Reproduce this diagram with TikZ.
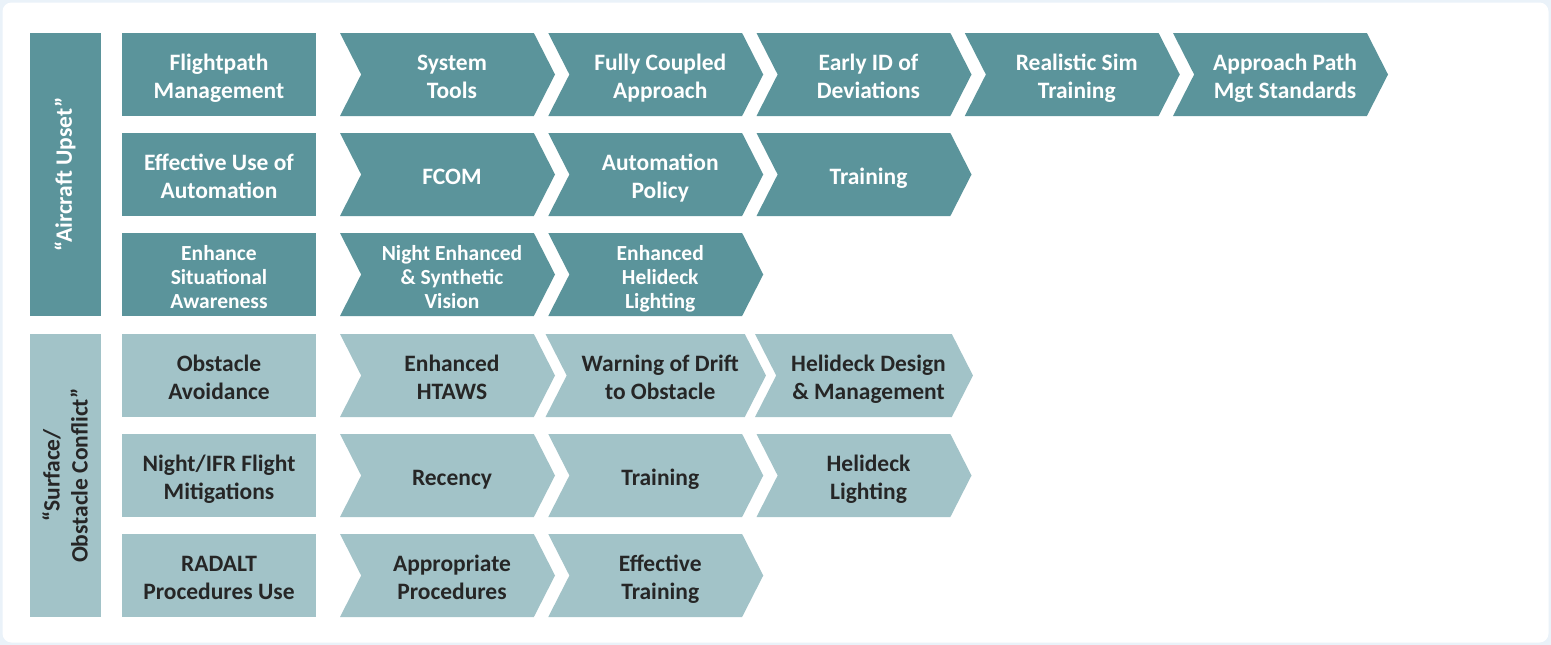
\documentclass[tikz,border=0pt]{standalone}
\usepackage{fontspec}
\setmainfont{Carlito}
\usetikzlibrary{shapes.symbols}
\definecolor{tealdark}{HTML}{5B949B}
\definecolor{teallight}{HTML}{A2C3C8}
\definecolor{ink}{HTML}{262626}
\definecolor{framebg}{HTML}{EAF2F9}
\tikzstyle{group} = [rectangle, minimum width=283pt, minimum height=71pt, inner sep=0pt, align=center, rotate=90, font=\fontsize{23.5}{28}\selectfont\bfseries]
\tikzstyle{cause} = [rectangle, minimum width=194pt, minimum height=83pt, inner sep=0pt, font=\fontsize{23.5}{28}\selectfont\bfseries, execute at begin node={\rule{0pt}{1.25em}}]
\tikzstyle{chev} = [signal, signal to=east, signal from=west, signal pointer angle=126, minimum width=215pt, minimum height=83pt, inner sep=0pt, font=\fontsize{23.5}{28}\selectfont\bfseries, execute at begin node={\hspace*{9pt}\rule{0pt}{1.25em}}]
\tikzstyle{three} = [font=\fontsize{21.5}{24}\selectfont\bfseries]
\tikzstyle{dark} = [fill=tealdark, text=white]
\tikzstyle{light} = [fill=teallight, text=ink]

\begin{document}
\begin{tikzpicture}[x=1pt, y=-1pt, node distance=208.25pt]
	\useasboundingbox (0,0) rectangle (1551,645);
	\fill [framebg] (0,0) rectangle (1551,645);
	\fill [white, rounded corners=9pt] (2.5,2.5) rectangle (1548.5,642.5);

	% "Aircraft Upset"
	\node (upset) [group, dark] at (65,174.5) {“Aircraft Upset”};
	\node (flight) [cause, dark] at (219,74.5) {\begin{tabular}[t]{c}Flightpath\\Management\end{tabular}};
	\node (systools) [chev, dark] at (447.5,74.5) {\begin{tabular}[t]{c}System\\Tools\end{tabular}};
	\node (coupled) [chev, dark, right of=systools] {\begin{tabular}[t]{c}Fully Coupled\\Approach\end{tabular}};
	\node (earlyid) [chev, dark, right of=coupled] {\begin{tabular}[t]{c}Early ID of\\Deviations\end{tabular}};
	\node (simtrain) [chev, dark, right of=earlyid] {\begin{tabular}[t]{c}Realistic Sim\\Training\end{tabular}};
	\node (pathstd) [chev, dark, right of=simtrain] {\begin{tabular}[t]{c}Approach Path\\Mgt Standards\end{tabular}};

	\node (autom) [cause, dark] at (219,174.5) {\begin{tabular}[t]{c}Effective Use of\\Automation\end{tabular}};
	\node (fcom) [chev, dark] at (447.5,174.5) {\begin{tabular}[t]{c}FCOM\end{tabular}};
	\node (autopol) [chev, dark, right of=fcom] {\begin{tabular}[t]{c}Automation\\Policy\end{tabular}};
	\node (autotrain) [chev, dark, right of=autopol] {\begin{tabular}[t]{c}Training\end{tabular}};

	\node (sitaw) [cause, dark, three] at (219,274.5) {\begin{tabular}[t]{c}Enhance\\Situational\\Awareness\end{tabular}};
	\node (nightvis) [chev, dark, three] at (447.5,274.5) {\begin{tabular}[t]{c}Night Enhanced\\\& Synthetic\\Vision\end{tabular}};
	\node (helilight) [chev, dark, three, right of=nightvis] {\begin{tabular}[t]{c}Enhanced\\Helideck\\Lighting\end{tabular}};

	% "Surface/Obstacle Conflict"
	\node (surface) [group, light] at (65,475.5) {“Surface/\\Obstacle Conflict”};
	\node (obst) [cause, light] at (219,375.5) {\begin{tabular}[t]{c}Obstacle\\Avoidance\end{tabular}};
	\node (htaws) [chev, light] at (447.5,375.5) {\begin{tabular}[t]{c}Enhanced\\HTAWS\end{tabular}};
	\node (drift) [chev, light, right of=htaws] {\begin{tabular}[t]{c}Warning of Drift\\to Obstacle\end{tabular}};
	\node (helidesign) [chev, light, right of=drift] {\begin{tabular}[t]{c}Helideck Design\\\& Management\end{tabular}};

	\node (nightifr) [cause, light] at (219,475.5) {\begin{tabular}[t]{c}Night/IFR Flight\\Mitigations\end{tabular}};
	\node (recency) [chev, light] at (447.5,475.5) {\begin{tabular}[t]{c}Recency\end{tabular}};
	\node (ifrtrain) [chev, light, right of=recency] {\begin{tabular}[t]{c}Training\end{tabular}};
	\node (helilight2) [chev, light, right of=ifrtrain] {\begin{tabular}[t]{c}Helideck\\Lighting\end{tabular}};

	\node (radalt) [cause, light] at (219,575.5) {\begin{tabular}[t]{c}RADALT\\Procedures Use\end{tabular}};
	\node (approc) [chev, light] at (447.5,575.5) {\begin{tabular}[t]{c}Appropriate\\Procedures\end{tabular}};
	\node (efftrain) [chev, light, right of=approc] {\begin{tabular}[t]{c}Effective\\Training\end{tabular}};
\end{tikzpicture}
\end{document}
